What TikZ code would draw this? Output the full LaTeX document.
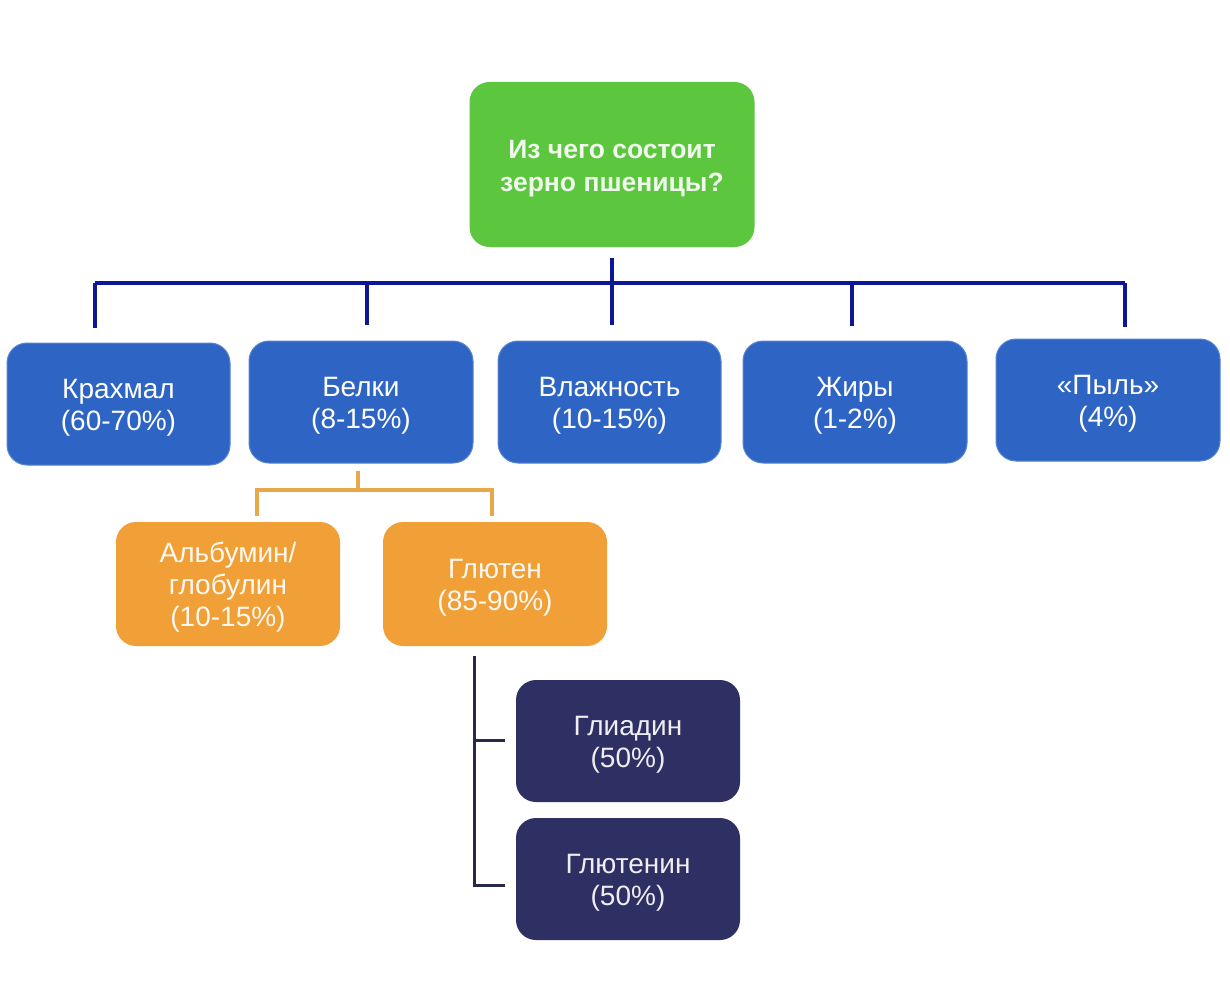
\documentclass[tikz,border=0pt]{standalone}
\usepackage{fontspec}
\setmainfont{Liberation Sans}
\definecolor{cgreen}{RGB}{92,198,62}
\definecolor{cblue}{RGB}{46,101,196}
\definecolor{corange}{RGB}{240,160,54}
\definecolor{cnavy}{RGB}{46,47,98}
\definecolor{lblue}{RGB}{12,22,150}
\definecolor{lorange}{RGB}{232,168,74}
\definecolor{lnavy}{RGB}{40,40,72}
\newcommand\tstr{\rule{0pt}{26pt}}
\tikzset{
  box/.style={rounded corners=20pt, minimum width=224pt, minimum height=122pt,
    align=center, text=white, font=\fontsize{28}{32}\selectfont, inner sep=0pt},
  rootbox/.style={box, fill=cgreen, minimum width=285pt, minimum height=165pt,
    font=\fontsize{26.5}{33}\selectfont\bfseries, text=white!90!cgreen},
  bluebox/.style={box, fill=cblue, draw=cblue!80!white, line width=1pt},
  orangebox/.style={box, fill=corange, minimum height=124pt, text=white!93!corange},
  navybox/.style={box, fill=cnavy, text=white!92!cnavy},
  bline/.style={draw=lblue, line width=3.5pt},
  oline/.style={draw=lorange, line width=3.2pt},
  nline/.style={draw=lnavy, line width=3pt}
}
\begin{document}
\begin{tikzpicture}[x=1pt,y=-1pt]
\useasboundingbox (0,0) rectangle (1230,997);
\fill[white] (0,0) rectangle (1230,997);
\node[rootbox] (root) at (612,164.5) {\rule{0pt}{27pt}Из чего состоит\\зерно пшеницы?};
\node[bluebox, minimum width=223pt] (k) at (118.5,404) {\tstr Крахмал\\(60-70\%)};
\node[bluebox] (b) at (361,402) {\tstr Белки\\(8-15\%)};
\node[bluebox, minimum width=223pt] (v) at (609.5,402) {\tstr Влажность\\(10-15\%)};
\node[bluebox] (zh) at (855,402) {\tstr Жиры\\(1-2\%)};
\node[bluebox] (p) at (1108,400) {\tstr «Пыль»\\(4\%)};
\node[orangebox] (a) at (228,584) {\tstr Альбумин/\\глобулин\\(10-15\%)};
\node[orangebox] (g) at (495,584) {\tstr Глютен\\(85-90\%)};
\node[navybox] (gl) at (628,741) {\tstr Глиадин\\(50\%)};
\node[navybox] (gt) at (628,879) {\tstr Глютенин\\(50\%)};
% blue bus
\coordinate (bk) at (95,283);
\coordinate (bb) at (367,283);
\coordinate (bz) at (852,283);
\coordinate (bp) at (1125,283);
\draw[bline] (bk) -- (bp);
\draw[bline] ([yshift=-11pt]root.south) -- ([yshift=16pt]v.north -| root.south);
\draw[bline] (bk) -- ([yshift=15pt]k.north -| bk);
\draw[bline] (bb) -- ([yshift=16pt]b.north -| bb);
\draw[bline] (bz) -- ([yshift=15pt]zh.north -| bz);
\draw[bline] (bp) -- ([yshift=12pt]p.north -| bp);
% orange
\coordinate (ob) at (358,490);
\coordinate (oa) at (257,490);
\coordinate (og) at (492,490);
\draw[oline] ([xshift=-3pt,yshift=-7pt]b.south) -- (ob);
\draw[oline] ([yshift=6pt]a.north -| oa) -- (oa) -- (og) -- ([yshift=6pt]g.north -| og);
% navy
\coordinate (nt) at (474,656);
\coordinate (n1) at (474,740);
\coordinate (n2) at (474,885);
\draw[nline] (nt) -- (n2) -- ([xshift=-11pt]gt.west |- n2);
\draw[nline] (n1) -- ([xshift=-11pt]gl.west |- n1);
\end{tikzpicture}
\end{document}
